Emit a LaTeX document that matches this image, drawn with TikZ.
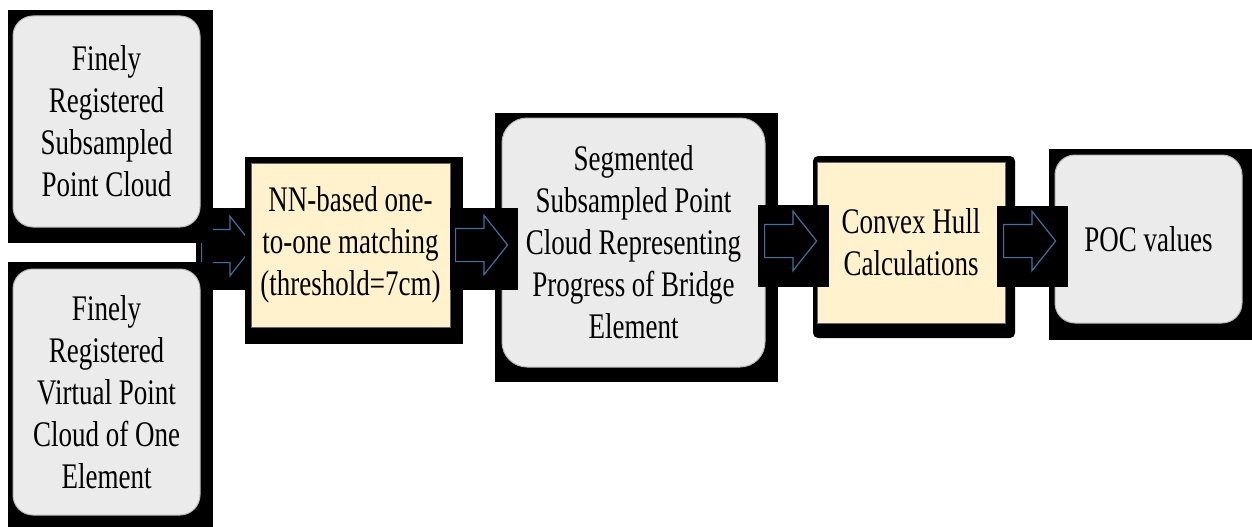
\documentclass[tikz,border=0pt]{standalone}
\usepackage{fontspec}
\setmainfont{Liberation Serif}[FakeStretch=0.75]
\usetikzlibrary{shapes.arrows}

\definecolor{boxgray}{RGB}{235,235,235}
\definecolor{boxyellow}{RGB}{255,242,204}
\definecolor{arrowblue}{RGB}{65,113,156}

\begin{document}
\begin{tikzpicture}[
x=1pt, y=-1pt,
backdrop/.style={
fill=black,
inner sep=0pt
},
graybox/.style={
draw=gray!55,
line width=1pt,
fill=boxgray,
rounded corners=20pt,
align=center,
inner sep=0pt,
font=\fontsize{36}{42}\selectfont
},
yellowbox/.style={
draw=gray!80!black,
line width=1pt,
fill=boxyellow,
align=center,
inner sep=0pt,
font=\fontsize{36}{42}\selectfont
},
flow/.style={
single arrow,
draw=arrowblue,
line width=1.2pt,
fill=black,
inner sep=0pt,
inner ysep=16pt,
minimum height=52pt,
minimum width=58pt,
single arrow head extend=13pt,
single arrow tip angle=103,
anchor=tail
}
]

\useasboundingbox (0,0) rectangle (1252,527);

% inputs -> matching
\node[backdrop, minimum width=51pt, minimum height=82pt] (in-bg) at (221.5,249) {};
\node[flow] (in-arrow) at (201,246) {};

\node[backdrop, minimum width=205pt, minimum height=233pt] (sub-bg) at (110.5,126.5) {};
\node[graybox, minimum width=187pt, minimum height=211pt] (sub) at (106.5,121.5)
{Finely\\Registered\\Subsampled\\Point Cloud};

\node[backdrop, minimum width=205pt, minimum height=265pt] (virt-bg) at (110.5,394.5) {};
\node[graybox, minimum width=187pt, minimum height=246pt] (virt) at (106.5,392)
{Finely\\Registered\\Virtual Point\\Cloud of One\\Element};

\node[backdrop, minimum width=218pt, minimum height=187pt] (match-bg) at (354,250.5) {};
\node[yellowbox, minimum width=199pt, minimum height=164pt] (match) at (350.5,245)
{NN-based one-\\to-one matching\\(threshold=7cm)};

\node[backdrop, minimum width=283pt, minimum height=269pt] (seg-bg) at (636.5,247.5) {};
\node[graybox, rounded corners=25pt, minimum width=263pt, minimum height=249pt] (seg) at (633.5,242.5)
{Segmented\\Subsampled Point\\Cloud Representing\\Progress of Bridge\\Element};

\node[backdrop, rounded corners=5pt, minimum width=202pt, minimum height=182pt] (hull-bg) at (914,247) {};
\node[yellowbox, minimum width=188pt, minimum height=161pt] (hull) at (911,242.5)
{Convex Hull\\Calculations};

\node[backdrop, minimum width=203pt, minimum height=191pt] (poc-bg) at (1150.5,244.5) {};
\node[graybox, minimum width=187pt, minimum height=168pt] (poc) at (1148.5,239)
{POC values};

% arrows in front of the boxes
\node[backdrop, minimum width=68pt, minimum height=82pt] (seg-in-bg) at (484,249) {};
\node[flow] (seg-in) at (455,245) {};

\node[backdrop, minimum width=71pt, minimum height=82pt] (hull-in-bg) at (793.5,246) {};
\node[flow] (hull-in) at (764,241) {};

\node[backdrop, minimum width=71pt, minimum height=81pt] (poc-in-bg) at (1032.5,246.5) {};
\node[flow] (poc-in) at (1003,241) {};

\end{tikzpicture}
\end{document}
